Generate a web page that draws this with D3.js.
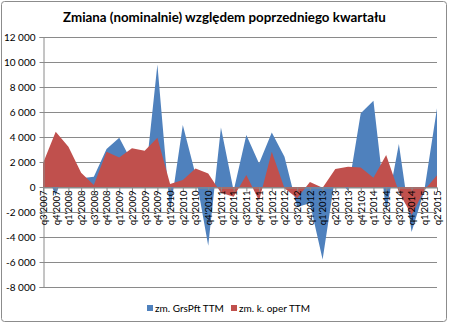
<!DOCTYPE html>
<html><head><meta charset="utf-8">
<script src="https://cdn.jsdelivr.net/npm/d3@7"></script>
<style>
html,body{margin:0;padding:0;background:#fff;}
svg{display:block;font-family:Lato,"Liberation Sans",sans-serif;}
</style></head>
<body>
<svg id="c" width="449" height="324"></svg>
<script>
const categories = ["q3'2007","q4'2007","q1'2008","q2'2008","q3'2008","q4'2008","q1'2009","q2'2009","q3'2009","q4'2009","q1'2010","q2'2010","q3'2010","q4'2010","q1'2011","q2'2011","q3'2011","q4'2011","q1'2012","q2'2012","q3'2012","q4'2012","q1'2013","q2'2013","q3'2013","q4'2103","q1'2014","q2'2014","q3'2014","q4'2014","q1'2015","q2'2015"];
const grsPft = [1800,-700,2300,700,830,3040,3950,2000,200,9800,-2000,4960,1000,-4700,4770,-300,4160,1890,4370,2430,-1600,-1300,-5800,900,-300,5900,6900,-2000,3440,-3600,-300,6300];
const kOper = [1900,4430,3230,1150,160,2830,2370,3100,2900,3950,250,560,1490,1090,-450,-770,960,-1100,2830,-100,-900,400,-50,1440,1630,1570,750,2560,-400,-2240,-250,950];
const yTicks = [-8000,-6000,-4000,-2000,0,2000,4000,6000,8000,10000,12000];
const seriesNames = ["zm. GrsPft TTM","zm. k. oper TTM"];
const title = "Zmiana (nominalnie) względem poprzedniego kwartału";

(function(){
const svg = d3.select("#c");
const W = 449, H = 324;
const pL = 43, pR = 437, pT = 37, pB = 287;

svg.append("rect").attr("x",1.5).attr("y",1.5).attr("width",W-4).attr("height",H-4)
  .attr("rx",3).attr("fill","#fff").attr("stroke","#8c8c8c").attr("stroke-width",1);

const x = d3.scalePoint().domain(categories).range([pL, pR]);
const y = d3.scaleLinear().domain([-8000,12000]).range([pB, pT]);
const loc = d3.formatLocale({decimal:",", thousands:" ", grouping:[3], currency:["",""], minus:"-"});
const fmt = loc.format(",d");

// gridlines
svg.append("g").selectAll("line").data(yTicks).join("line")
  .attr("x1",pL).attr("x2",pR)
  .attr("y1",d=>Math.round(y(d))+0.5).attr("y2",d=>Math.round(y(d))+0.5)
  .attr("stroke","#8a8a8a").attr("stroke-width",1);

// areas
const colors = ["#4F81BD","#C0504D"];
[grsPft,kOper].forEach((vals,k)=>{
  const area = d3.area()
    .x((d,i)=>x(categories[i]))
    .y0(y(0)).y1(d=>y(d));
  svg.append("path").datum(vals).attr("d",area).attr("fill",colors[k]);
});

// y axis
const yAxis = d3.axisLeft(y).tickValues(yTicks).tickFormat(fmt).tickSize(4).tickPadding(4);
const ga = svg.append("g").attr("transform",`translate(${pL+0.5},0)`).call(yAxis);
ga.select(".domain").attr("stroke","#8a8a8a");
ga.selectAll(".tick line").attr("stroke","#8a8a8a");
ga.selectAll(".tick text").attr("font-size",10).attr("fill","#000").attr("font-family","Lato,sans-serif");

// x axis at zero
const xAxis = d3.axisBottom(x).tickSize(4).tickPadding(3);
const gx = svg.append("g").attr("transform",`translate(0,${Math.round(y(0))+0.5})`).call(xAxis);
gx.select(".domain").attr("stroke","#8a8a8a");
gx.selectAll(".tick line").attr("stroke","#8a8a8a");
gx.selectAll(".tick text")
  .attr("font-size",9.5).attr("fill","#000").attr("font-family","Lato,sans-serif")
  .attr("transform","rotate(-90)")
  .attr("text-anchor","end")
  .attr("x",-3).attr("y",0).attr("dy","0.35em");

// title
const t = svg.append("text").attr("x",224.5).attr("y",22).attr("text-anchor","middle")
  .attr("font-weight","bold").attr("font-size",14).attr("fill","#000").text(title);
const tl = t.node().getComputedTextLength();
t.attr("font-size", 14*323/tl);

// legend
const lg = svg.append("g");
const legX = [147, 231];
seriesNames.forEach((n,k)=>{
  lg.append("rect").attr("x",legX[k]).attr("y",305).attr("width",6).attr("height",6).attr("fill",colors[k]);
  lg.append("text").attr("x",legX[k]+8).attr("y",311.5).attr("font-size",10).attr("fill","#000").text(n);
});
})();
</script>
</body></html>
